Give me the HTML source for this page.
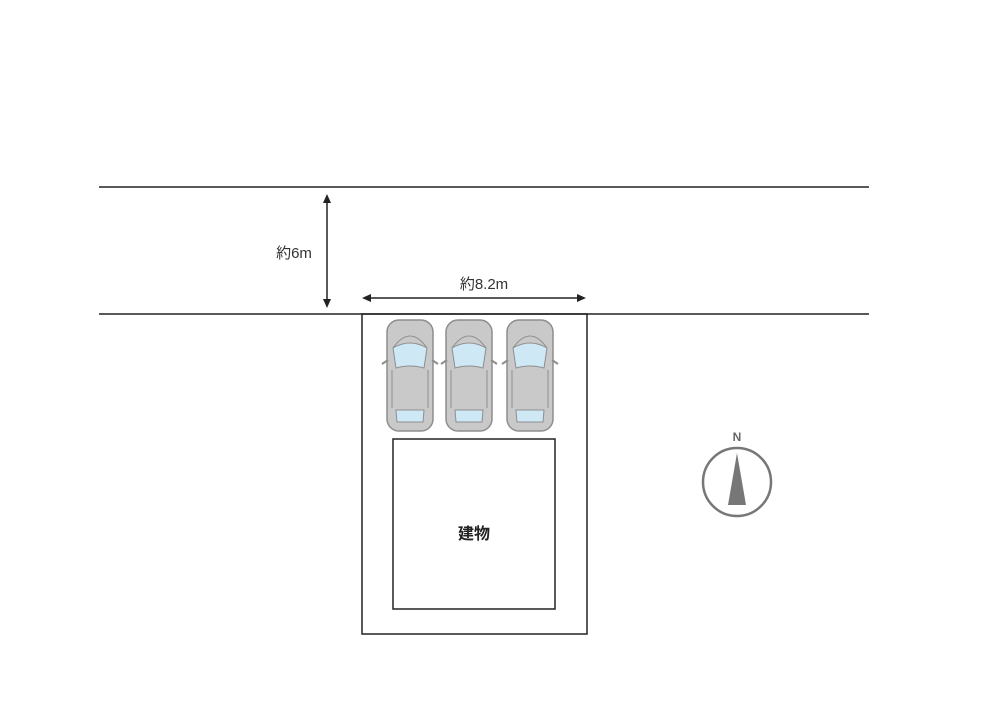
<!DOCTYPE html>
<html><head><meta charset="utf-8"><style>body{margin:0;background:#fff}</style></head><body>
<svg width="1000" height="708" xmlns="http://www.w3.org/2000/svg" font-family="Liberation Sans, Noto Sans CJK JP, sans-serif">
<defs>
<g id="car">
<rect x="0" y="0" width="46" height="111" rx="12" fill="#c9c9c9" stroke="#8e8e8e" stroke-width="1.5"/>
<path d="M6 28 Q23 18 40 28 L37 48 Q23 44 9 48 Z" fill="#cfe8f5" stroke="#8e8e8e" stroke-width="1"/>
<path d="M9 90 L37 90 L36 102 L10 102 Z" fill="#cfe8f5" stroke="#8e8e8e" stroke-width="1"/>
<path d="M6 28 Q23 4 40 28" fill="none" stroke="#8e8e8e" stroke-width="1"/>
<line x1="5" y1="50" x2="5" y2="88" stroke="#8e8e8e"/><line x1="41" y1="50" x2="41" y2="88" stroke="#8e8e8e"/>
<path d="M1 40 L-5 44 M45 40 L51 44" stroke="#8e8e8e" stroke-width="2"/>
</g>
</defs>
<line x1="99" y1="187" x2="869" y2="187" stroke="#222" stroke-width="1.5"/>
<line x1="99" y1="314" x2="869" y2="314" stroke="#222" stroke-width="1.5"/>
<line x1="327" y1="198" x2="327" y2="304" stroke="#222" stroke-width="1.5"/>
<path d="M323 203 L327 194 L331 203 Z M323 299 L327 308 L331 299 Z" fill="#222"/>
<text x="294" y="258" font-size="15" text-anchor="middle" fill="#333">約6m</text>
<line x1="366" y1="298" x2="582" y2="298" stroke="#222" stroke-width="1.5"/>
<path d="M371 294 L362 298 L371 302 Z M577 294 L586 298 L577 302 Z" fill="#222"/>
<text x="484" y="289" font-size="15" text-anchor="middle" fill="#333">約8.2m</text>
<rect x="362" y="314" width="225" height="320" fill="none" stroke="#222" stroke-width="1.5"/>
<rect x="393" y="439" width="162" height="170" fill="none" stroke="#222" stroke-width="1.5"/>
<text x="474" y="539" font-size="16" font-weight="bold" text-anchor="middle" fill="#222">建物</text>
<use href="#car" x="387" y="320"/>
<use href="#car" x="446" y="320"/>
<use href="#car" x="507" y="320"/>
<circle cx="737" cy="482" r="34" fill="none" stroke="#777" stroke-width="2.5"/>
<path d="M737 453 L728 505 L746 505 Z" fill="#777"/>
<text x="737" y="441" font-size="12" font-weight="bold" text-anchor="middle" fill="#666">N</text>
</svg>
</body></html>
